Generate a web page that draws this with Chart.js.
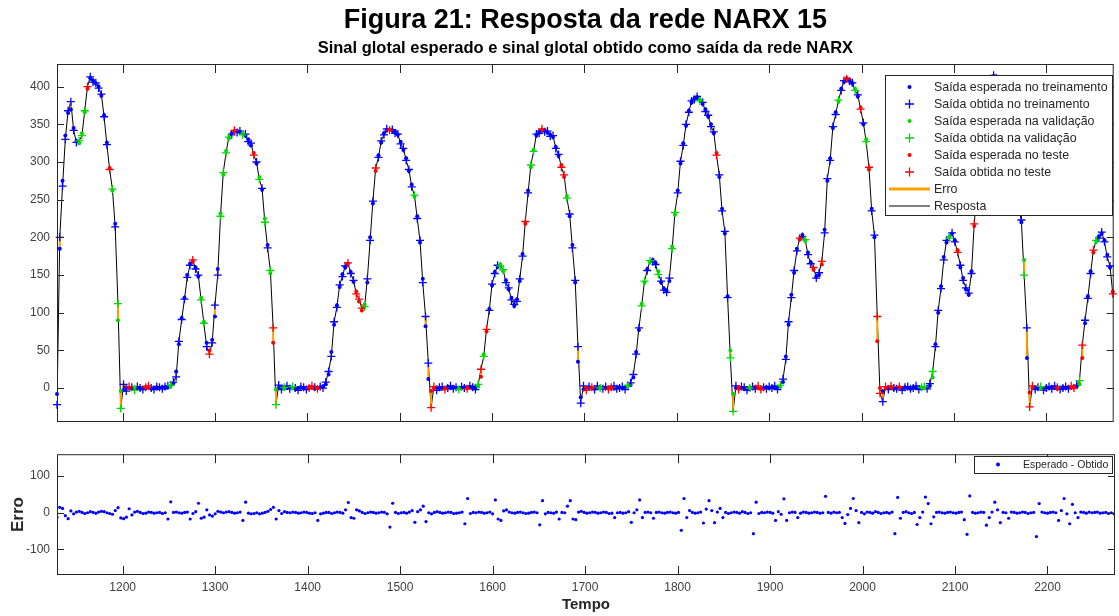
<!DOCTYPE html>
<html lang="pt">
<head>
<meta charset="utf-8">
<title>Resposta da rede NARX 15</title>
<script src="https://cdn.jsdelivr.net/npm/chart.js@4.4.0/dist/chart.umd.min.js"></script>
<style>
  html, body { margin: 0; padding: 0; background: #fff; }
  #fig { position: relative; width: 1119px; height: 616px; }
  canvas { position: absolute; left: 0; }
  #resposta { top: 0; }
  #erro { top: 440px; }
</style>
</head>
<body>
<div id="fig">
  <canvas id="resposta" width="1119" height="440"></canvas>
  <canvas id="erro" width="1119" height="176"></canvas>
</div>
<script>
// amostras a cada 3 unidades de tempo, de 1129 a 2272
const tempoInicial = 1129;
const passo = 3;

// saída esperada (sinal glotal)
const esperado = [
  -8, 185, 275, 335, 365, 370, 345, 328, 325, 338, 366, 397, 411, 408, 404, 400, 388, 362, 326, 292, 262, 218, 90, -4,
  -3, 1, 0, -1, 1, 0, -1, 0, 1, 0, -1, 0, 1, 0, 1, 0, 1, 2,
  6, 22, 58, 93, 120, 150, 165, 168, 160, 148, 120, 88, 60, 50, 64, 95, 158, 232, 283, 315, 331, 338, 341, 341, 340, 338, 335, 330, 322, 312, 298, 280, 263, 225, 190, 152, 60, -2,
  0, 1, -1, 0, 1, 0, -1, 0, 1, 0, 0, 1, 0, -1, 0, 1, 2, 5,
  18, 48, 84, 110, 134, 151, 160, 165, 154, 141, 128, 115, 103, 111, 140, 200, 245, 288, 309, 326, 338, 342, 343, 342, 340, 336, 327, 316, 305, 288, 270, 254, 228, 193, 145, 82, 12, -4,
  0, 1, 0, -1, 0, 1, 0, 1, 0, -1, 0, 1, 0, 1, 0, 1, 2,
  15, 45, 75, 105, 136, 154, 161, 164, 155, 143, 131, 120, 109, 118, 142, 178, 218, 262, 293, 316, 335, 340, 343, 342, 339, 336, 333, 320, 308, 296, 280, 255, 228, 190, 140, 35, -12, -2,
  0, 1, 0, -1, 0, 1, 0, 0, 1, 0, -1, 0, 1, 0, 1, 2, 4,
  14, 48, 77, 112, 140, 158, 167, 170, 166, 155, 140, 132, 129, 142, 188, 230, 262, 298, 325, 348, 368, 379, 384, 386, 383, 377, 370, 360, 350, 338, 312, 280, 238, 205, 122, 50, -8,
  0, 1, 0, -1, 0, 1, 0, 1, 0, -1, 0, 1, 0, 1, 0, 1, 2,
  8, 42, 84, 124, 153, 185, 197, 203, 195, 180, 167, 157, 148, 150, 164, 210, 275, 305, 345, 366, 380, 397, 406, 411, 409, 404, 397, 387, 372, 350, 330, 290, 238, 200, 62, 0, -4,
  0, 1, 0, -1, 0, 1, 0, 1, 0, -1, 0, 1, 0, 1, 0, 1, 3,
  14, 58, 100, 135, 174, 193, 201, 205, 196, 183, 160, 146, 131, 124, 155, 215, 265, 320, 352, 378, 395, 408, 414, 413, 405, 395, 378, 355, 325, 295, 262, 240, 220, 170, 40, -6,
  0, 1, 0, -1, 0, 1, 0, 1, 0, -1, 0, 1, 0, 1, 0, 1, 2, 5,
  40, 86, 122, 155, 180, 194, 201, 205, 196, 177, 160, 128
];

// saída obtida pela rede
const obtido = [
  -22, 200, 268, 330, 368, 380, 342, 326, 328, 335, 368, 400, 413, 406, 405, 398, 390, 360, 323, 290, 264, 214, 112, -27,
  5, -4, 2, 1, -3, 2, 0, -2, 1, 3, 0, -2, 2, 1, -1, 2, 3, 4,
  8, 15, 62, 91, 118, 147, 163, 170, 158, 150, 117, 86, 55, 45, 60, 110, 150, 228, 286, 312, 333, 336, 342, 339, 341, 336, 337, 327, 325, 309, 300, 277, 265, 220, 186, 156, 80, -22,
  4, -2, 1, 3, -1, 2, 0, -3, 2, 1, -2, 0, 3, 1, -1, 2, 0, 8,
  22, 42, 88, 107, 137, 148, 162, 166, 152, 143, 125, 118, 106, 108, 145, 196, 248, 292, 306, 328, 336, 344, 342, 343, 338, 337, 324, 318, 302, 290, 267, 256, 225, 196, 140, 95, 33, -26,
  2, -3, 1, 2, -2, 0, 3, -1, 1, -2, 2, 0, -1, 3, 1, -2, 5,
  25, 42, 78, 103, 138, 152, 163, 162, 157, 140, 133, 117, 111, 115, 145, 175, 221, 259, 296, 314, 337, 338, 344, 340, 341, 334, 335, 318, 310, 293, 283, 252, 231, 186, 143, 55, -20, 3,
  -3, 2, 1, -2, 3, 0, -1, 2, -2, 1, 3, -1, 0, 2, -2, 4, 7,
  18, 45, 80, 109, 142, 156, 169, 168, 164, 151, 142, 130, 127, 146, 185, 233, 259, 301, 322, 350, 366, 381, 383, 387, 381, 379, 367, 362, 347, 340, 309, 283, 235, 208, 120, 40, -31,
  3, -2, 2, 1, -3, 0, 2, -1, 3, -2, 1, -1, 2, 0, 3, -2, 4,
  12, 38, 88, 120, 156, 182, 199, 201, 197, 177, 165, 160, 146, 153, 168, 206, 278, 302, 347, 363, 382, 395, 408, 410, 407, 405, 395, 389, 370, 352, 327, 293, 235, 203, 95, -7, -18,
  2, -2, 3, 0, -1, 2, -3, 1, 2, -1, 0, 3, -2, 1, 2, -1, 6,
  22, 55, 103, 132, 170, 196, 199, 206, 194, 180, 163, 143, 133, 126, 152, 218, 262, 323, 350, 380, 393, 410, 415, 411, 407, 392, 380, 352, 328, 292, 265, 237, 223, 150, 80, -25,
  3, -2, 1, 2, -3, 0, 2, -1, 3, 1, -2, 0, 2, -1, 3, 0, 4, 10,
  57, 90, 119, 152, 183, 196, 199, 207, 194, 174, 162, 125
];

// erro (esperado - obtido) mostrado no gráfico de baixo
const erro = [
  -12, 15, 12, -8, -16, 5, -3, 2, 4, 1, -2, 0, 3, 1, -1, 2, 4, 3, 0, -2, -4, 6, 14, -14,
  -16, -12, 11, -6, 2, 4, 1, -2, -1, 2, 1, -1, 0, 1, -2, 0, -17, 30,
  1, 2, 0, -1, 1, 2, -17, -2, 3, 26, -15, -12, 8, -6, -9, -3, 4, 2, 0, 2, 3, 1, -1, 0, 2, -21, 29, -1, -3, -2, 0, -3, -1, 1, 4, 9, 15, -17,
  6, -2, 3, 1, 0, 2, 1, -1, 0, 2, 1, -1, -2, 0, -21, -3, -1, 1,
  1, -2, 0, 2, 1, -1, 8, 28, -13, -15, 8, 5, 1, -2, 0, 2, 1, -1, 0, 2, 1, -3, -39, 26, 1, -2, 0, 1, -1, 2, 6, -26, 3, 8, 18, -24, 0, -3,
  1, 3, 1, -1, 0, 2, 1, -2, -1, 0, 2, -30, 39, -2, 1, 0, 2,
  1, -1, 0, 2, -3, 35, -17, -21, 5, 8, 2, 0, -1, 1, 2, 0, -2, -1, 1, 2, 0, -33, 33, -3, 1, 0, -1, 2, -17, 1, 0, 18, 33, -17, -19, 2, 4, 1,
  -1, 0, 2, 1, -1, 0, 2, 1, -2, -1, -13, 0, 1, -1, 0, 3, -26,
  0, 8, 35, -13, 1, 2, 0, -15, 1, 2, 0, -1, 1, 2, 0, -1, 1, -48, 39, -13, 6, 1, -1, 0, 2, -28, 10, 33, 6, -27, 2, 12, -13, 1, -2, 0, 2,
  1, -1, 3, 1, -2, 0, -57, 29, -2, 1, 0, 2, 1, -1, -21, 3, -4,
  38, -21, 0, 2, 1, -13, -1, 2, 1, -1, 0, 2, 1, -1, 0, 45, 1, -1, 2, 0, 1, -13, -29, -5, 12, 39, 6, -27, 1, -3, 2, 1, -1, 3, 1, -2, 0,
  1, -1, 2, -57, 42, -15, 1, 3, 0, -2, 1, -32, -13, 2, 43, 25, -30,
  -11, 1, 2, 0, -1, 1, 2, 0, -1, 1, 2, -19, -59, 46, 1, -1, 0, 2, 1, -34, -13, 2, 29, 8, -27, 1, 0, -15, 2, 1, -1, 0, 2, 1, -2, 0,
  1, -65, 25, 2, 0, -1, 1, 2, 0, -21, 6, 39, -3, -30, 23, 0, -13, 2,
  1, -1, 2, 0, 1, 2, -1, 0, 1, -2, 0, -3
];

// conjunto de cada amostra: 0 = treinamento, 1 = validação, 2 = teste
const conjunto = [
  '000000001112000000021011',
  '002010002200000001',
  '00000002001102000111102001000201010121',
  '001001000002202000',
  '00000002002221000200002000000001000002',
  '20002000010020001',
  '21200001100000002011002000000221000000',
  '20200100220000010',
  '0001101001000011000000001000002000011',
  '02000100220000001',
  '0000002010020020000010020010201200220',
  '20200200000001100',
  '100000100200000201000200010020000102',
  '200100000200002201',
  '200021000002'
].join('').split('').map(Number);

const marcasX = [1200, 1300, 1400, 1500, 1600, 1700, 1800, 1900, 2000, 2100, 2200];
const marcasY = [0, 50, 100, 150, 200, 250, 300, 350, 400];
const marcasErro = [-100, 0, 100];

const nomesConjunto = ['no treinamento', 'na validação', 'no teste'];
const cores = ['#0000ff', '#00d800', '#ff0000'];
const corErro = '#ffa000';

const FONTE = '"Liberation Sans", Arial, Helvetica, sans-serif';
Chart.defaults.font.family = FONTE;
Chart.defaults.color = '#262626';

const tempo = esperado.map((_, i) => tempoInicial + passo * i);

function pontos(serie, grupo) {
  return tempo.flatMap((t, i) => conjunto[i] === grupo ? [{ x: t, y: serie[i] }] : []);
}

// segmentos verticais entre o esperado e o obtido
const segmentosErro = tempo.flatMap((t, i) => [
  { x: t, y: esperado[i] }, { x: t, y: obtido[i] }, { x: t, y: null }
]);

// caixa dos eixos com marcas para dentro, como no MATLAB
const moldura = {
  id: 'moldura',
  afterDatasetsDraw(chart, args, o) {
    const { ctx, chartArea: a, scales: { x, y } } = chart;
    ctx.save();
    ctx.strokeStyle = '#262626';
    ctx.lineWidth = 1;
    ctx.beginPath();
    o.marcasX.forEach(v => {
      const px = Math.round(x.getPixelForValue(v)) + 0.5;
      ctx.moveTo(px, a.top); ctx.lineTo(px, a.top + 9);
      ctx.moveTo(px, a.bottom); ctx.lineTo(px, a.bottom - 9);
    });
    o.marcasY.forEach(v => {
      const py = Math.round(y.getPixelForValue(v)) + 0.5;
      ctx.moveTo(a.left, py); ctx.lineTo(a.left + 7, py);
      ctx.moveTo(a.right, py); ctx.lineTo(a.right - 7, py);
    });
    ctx.stroke();
    ctx.strokeRect(a.left + 0.5, a.top + 0.5, a.right - a.left - 1, a.bottom - a.top - 1);
    ctx.restore();
  }
};

// legenda em caixa branca por cima dos dados
const legendaCaixa = {
  id: 'legendaCaixa',
  afterDraw(chart, args, o) {
    if (!o.itens) return;
    const ctx = chart.ctx;
    ctx.save();
    ctx.fillStyle = '#fff';
    ctx.fillRect(o.x, o.y, o.w, o.h);
    ctx.strokeStyle = '#262626';
    ctx.lineWidth = 1;
    ctx.strokeRect(o.x + 0.5, o.y + 0.5, o.w, o.h);
    ctx.font = o.fonte;
    ctx.textBaseline = 'middle';
    o.itens.forEach((it, k) => {
      const cy = o.y + o.primeira + k * o.passo;
      if (it.tipo === 'ponto') {
        ctx.fillStyle = it.cor;
        ctx.beginPath();
        ctx.arc(o.marcaX, cy, 2, 0, Math.PI * 2);
        ctx.fill();
      } else if (it.tipo === 'cruz') {
        ctx.strokeStyle = it.cor;
        ctx.lineWidth = 1.3;
        ctx.beginPath();
        ctx.moveTo(o.marcaX - 4.5, cy); ctx.lineTo(o.marcaX + 4.5, cy);
        ctx.moveTo(o.marcaX, cy - 4.5); ctx.lineTo(o.marcaX, cy + 4.5);
        ctx.stroke();
      } else {
        ctx.strokeStyle = it.cor;
        ctx.lineWidth = it.largura;
        ctx.beginPath();
        ctx.moveTo(o.linha[0], cy); ctx.lineTo(o.linha[1], cy);
        ctx.stroke();
      }
      ctx.fillStyle = '#262626';
      ctx.fillText(it.texto, o.textoX, cy + 0.5);
    });
    ctx.restore();
  }
};

function eixoX(extra) {
  return Object.assign({
    type: 'linear', min: 1129, max: 2273,
    afterBuildTicks: s => { s.ticks = marcasX.map(v => ({ value: v })); },
    grid: { display: false, drawTicks: false },
    border: { display: false }
  }, extra);
}

function eixoY(min, max, marcas, extra) {
  return Object.assign({
    min: min, max: max,
    afterBuildTicks: s => { s.ticks = marcas.map(v => ({ value: v })); },
    afterFit: s => { s.width = 57; },
    grid: { display: false, drawTicks: false },
    border: { display: false },
    ticks: { padding: 7, color: '#404040', font: { size: 12 }, callback: v => String(v) }
  }, extra);
}

// marcadores por cima; linha de resposta por baixo
const datasetsResposta = [];
[2, 1, 0].forEach(g => {
  datasetsResposta.push({
    label: 'Saída obtida ' + nomesConjunto[g], data: pontos(obtido, g),
    pointStyle: 'cross', pointRadius: 4, borderColor: cores[g], borderWidth: 1.3, clip: 5
  });
  datasetsResposta.push({
    label: 'Saída esperada ' + nomesConjunto[g], data: pontos(esperado, g),
    pointStyle: 'circle', pointRadius: 2, backgroundColor: cores[g], borderWidth: 0, clip: 5
  });
});
datasetsResposta.push(
  { label: 'Erro', data: segmentosErro, showLine: true, spanGaps: false,
    borderColor: corErro, borderWidth: 2, pointRadius: 0 },
  { label: 'Resposta', data: tempo.map((t, i) => ({ x: t, y: obtido[i] })), showLine: true,
    borderColor: '#000', borderWidth: 1, pointRadius: 0 }
);

new Chart(document.getElementById('resposta'), {
  type: 'scatter',
  data: { datasets: datasetsResposta },
  options: {
    responsive: false, animation: false, devicePixelRatio: 1, events: [],
    layout: { padding: { top: 0, left: 0, right: 1, bottom: 18 } },
    scales: {
      x: eixoX({ ticks: { display: false }, afterFit: s => { s.height = 0; } }),
      y: eixoY(-45, 430, marcasY)
    },
    plugins: {
      legend: { display: false },
      tooltip: { enabled: false },
      title: {
        display: true, fullSize: false, text: 'Figura 21: Resposta da rede NARX 15', color: '#000',
        font: { size: 27, weight: 'bold' }, padding: { top: 4.5, bottom: 0 }
      },
      subtitle: {
        display: true, fullSize: false, text: 'Sinal glotal esperado e sinal glotal obtido como saída da rede NARX',
        color: '#000', font: { size: 16.5, weight: 'bold' }, padding: { top: 1.9, bottom: 5.4 }
      },
      moldura: { marcasX: marcasX, marcasY: marcasY },
      legendaCaixa: {
        x: 885, y: 75, w: 227, h: 140, primeira: 12, passo: 17,
        marcaX: 909.5, linha: [889, 930], textoX: 934, fonte: '12.4px ' + FONTE,
        itens: [
          { tipo: 'ponto', cor: cores[0], texto: 'Saída esperada no treinamento' },
          { tipo: 'cruz', cor: cores[0], texto: 'Saída obtida no treinamento' },
          { tipo: 'ponto', cor: cores[1], texto: 'Saída esperada na validação' },
          { tipo: 'cruz', cor: cores[1], texto: 'Saída obtida na validação' },
          { tipo: 'ponto', cor: cores[2], texto: 'Saída esperada no teste' },
          { tipo: 'cruz', cor: cores[2], texto: 'Saída obtida no teste' },
          { tipo: 'linha', cor: corErro, largura: 2.8, texto: 'Erro' },
          { tipo: 'linha', cor: '#000', largura: 1.2, texto: 'Resposta' }
        ]
      }
    }
  },
  plugins: [moldura, legendaCaixa]
});

new Chart(document.getElementById('erro'), {
  type: 'scatter',
  data: {
    datasets: [{
      label: 'Esperado - Obtido', data: tempo.map((t, i) => ({ x: t, y: erro[i] })),
      pointStyle: 'circle', pointRadius: 1.6, backgroundColor: '#0000ff', borderWidth: 0
    }]
  },
  options: {
    responsive: false, animation: false, devicePixelRatio: 1, events: [],
    layout: { padding: { top: 9, left: 0, right: 1, bottom: 0 } },
    scales: {
      x: eixoX({
        afterFit: s => { s.height = 41; },
        ticks: { padding: 5, color: '#404040', font: { size: 12 }, maxRotation: 0, autoSkip: false, callback: v => String(v) },
        title: { display: true, text: 'Tempo', color: '#262626', font: { size: 15, weight: 'bold' }, padding: { top: 0, bottom: 2 } }
      }),
      y: eixoY(-170, 160, marcasErro, {
        title: { display: true, text: 'Erro', color: '#262626', font: { size: 17, weight: 'bold' }, padding: { top: 8, bottom: 0 } }
      })
    },
    plugins: {
      legend: { display: false },
      tooltip: { enabled: false },
      moldura: { marcasX: marcasX, marcasY: marcasErro },
      legendaCaixa: {
        x: 974, y: 16, w: 138, h: 17, primeira: 8.5, passo: 0,
        marcaX: 998, linha: [980, 1010], textoX: 1023, fonte: '10.5px ' + FONTE,
        itens: [{ tipo: 'ponto', cor: '#0000ff', texto: 'Esperado - Obtido' }]
      }
    }
  },
  plugins: [moldura, legendaCaixa]
});
</script>
</body>
</html>
